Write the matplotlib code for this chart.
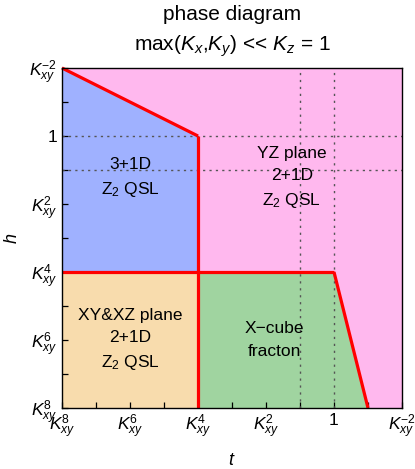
import matplotlib
matplotlib.use("Agg")
import matplotlib.pyplot as plt
from matplotlib.patches import Polygon
from matplotlib.ticker import FixedLocator

plt.rcParams['font.family'] = ['Liberation Sans', 'DejaVu Sans']
plt.rcParams['mathtext.fontset'] = 'custom'
plt.rcParams['mathtext.rm'] = 'Liberation Sans'
plt.rcParams['mathtext.it'] = 'Liberation Sans:italic'
plt.rcParams['mathtext.bf'] = 'Liberation Sans:bold'

# ---- data (coordinates are exponents: K_xy^p  ->  -p) ----
major_ticks = [-8, -6, -4, -2, 0, 2]
minor_ticks = [-7, -5, -3, -1, 1]
tick_labels = [r'$K_{xy}^{8}$', r'$K_{xy}^{6}$', r'$K_{xy}^{4}$',
               r'$K_{xy}^{2}$', '1', r'$K_{xy}^{-2}$']
dotted_x = [-1, 0]
dotted_y = [0, -1]

blue_x = [-8, -4, -4, -8]
blue_y = [2, 0, -4, -4]
orange_x = [-8, -4, -4, -8]
orange_y = [-4, -4, -8, -8]
green_x = [-4, 0, 1, -4]
green_y = [-4, -4, -8, -8]

boundaries = [
    ([-8, -4], [2, 0]),
    ([-4, -4], [0, -8]),
    ([-8, 0], [-4, -4]),
    ([0, 1], [-4, -8]),
]

labels = [
    (-6, -1.24, '3+1D\nZ$_2$ QSL'),
    (-1.24, -1.24, 'YZ plane\n2+1D\nZ$_2$ QSL'),
    (-6, -6.0, 'XY&XZ plane\n2+1D\nZ$_2$ QSL'),
    (-1.76, -6.0, 'X\u2212cube\nfracton'),
]

fig = plt.figure(figsize=(4.15, 4.69), dpi=100)
ax = fig.add_axes([62/415, 1-408/469, 340/415, 340/469])
ax.set_xlim(-8, 2)
ax.set_ylim(-8, 2)
ax.set_facecolor('#FFB8EE')

for xs, ys, c in [(blue_x, blue_y, '#9FB1FF'), (orange_x, orange_y, '#F8DCAD'),
                  (green_x, green_y, '#A0D4A0')]:
    ax.add_patch(Polygon(list(zip(xs, ys)), closed=True, facecolor=c,
                         edgecolor='none', zorder=1))

for x in dotted_x:
    ax.axvline(x, color='#555555', lw=1.0, ls=(0, (1.6, 3.4)), zorder=2)
for y in dotted_y:
    ax.axhline(y, color='#555555', lw=1.0, ls=(0, (1.6, 3.0)), zorder=2)

for xs, ys in boundaries:
    ax.plot(xs, ys, color='#FF0000', lw=2.3, solid_capstyle='butt', zorder=3,
            clip_on=False)

for x, y, s in labels:
    ax.text(x, y, s, ha='center', va='center', fontsize=12.5, linespacing=1.6,
            zorder=4)

ax.xaxis.set_major_locator(FixedLocator(major_ticks))
ax.yaxis.set_major_locator(FixedLocator(major_ticks))
ax.xaxis.set_minor_locator(FixedLocator(minor_ticks))
ax.yaxis.set_minor_locator(FixedLocator(minor_ticks))
ax.set_xticklabels(tick_labels)
ax.set_yticklabels(tick_labels)
ax.tick_params(which='both', direction='in', top=False, right=False,
               labelsize=12.5, pad=3.5)
ax.tick_params(which='major', length=4.5, width=0.9)
ax.tick_params(which='minor', length=4, width=0.9)
for sp in ax.spines.values():
    sp.set_linewidth(1.0)
    sp.set_zorder(5)

ax.set_xlabel('$t$', fontsize=13, labelpad=8)
ax.set_ylabel('$h$', fontsize=13, labelpad=6)

fig.text(0.56, 1-15/469, 'phase diagram', ha='center', va='center', fontsize=15)
fig.text(0.56, 1-46/469, 'max($K_x$,$K_y$) << $K_z$ = 1', ha='center',
         va='center', fontsize=15)

fig.savefig('out.png', dpi=100)
